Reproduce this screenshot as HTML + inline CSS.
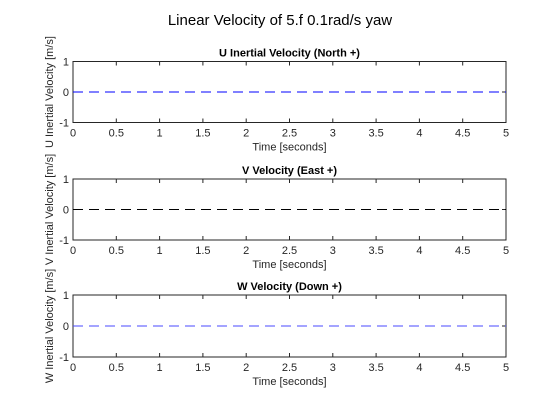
<!DOCTYPE html>
<html><head><meta charset="utf-8"><style>
body{margin:0;background:#fff;}
svg text{font-family:"Liberation Sans",Arial,sans-serif;}
</style></head><body>
<svg id="fig" width="560" height="414" xmlns="http://www.w3.org/2000/svg">
<rect width="560" height="414" fill="#fff"/>
<text x="280" y="25" font-size="15" text-anchor="middle" fill="#000">Linear Velocity of 5.f 0.1rad/s yaw</text>
</svg>
<script>
const xTicks=[0,0.5,1,1.5,2,2.5,3,3.5,4,4.5,5];
const xTickLabels=["0","0.5","1","1.5","2","2.5","3","3.5","4","4.5","5"];
const yTicks=[-1,0,1];
const tValues=[0,5];
const uValues=[0,0];
const vValues=[0,0];
const wValues=[0,0];
const titles=["U Inertial Velocity (North +)","V Velocity (East +)","W Velocity (Down +)"];
const yLabels=["U Inertial Velocity [m/s]","V Inertial Velocity [m/s]","W Inertial Velocity [m/s]"];
const series=[uValues,vValues,wValues];
const colors=["#0000ff","#000000","#4a4aff"];
const panels=[[61.5,122.5],[179,240],[295,357]];
const ns="http://www.w3.org/2000/svg";
const svg=document.getElementById('fig');
const X0=73,X1=506;
function mk(t,a,p){const e=document.createElementNS(ns,t);for(const k in a)e.setAttribute(k,a[k]);(p||svg).appendChild(e);return e;}
panels.forEach((pn,i)=>{
  const top=pn[0],bot=pn[1];
  const xs=v=>X0+(v-0)/(5-0)*(X1-X0);
  const ys=v=>bot-(v+1)/2*(bot-top);
  const g=mk('g',{});
  
  
  const box=mk('rect',{x:X0,y:top,width:X1-X0,height:bot-top,fill:'#fff',stroke:'#262626','stroke-width':1},g);
  
  
  xTicks.forEach((v,j)=>{
    const x=xs(v);
    mk('line',{x1:x,x2:x,y1:bot,y2:bot-4,stroke:'#262626'},g);
    mk('line',{x1:x,x2:x,y1:top,y2:top+4,stroke:'#262626'},g);
    const t=mk('text',{x:x,y:bot+14,'font-size':11,'text-anchor':'middle',fill:'#262626'},g);
    t.textContent=xTickLabels[j];
    
    
  });
  yTicks.forEach(v=>{
    const y=ys(v);
    mk('line',{x1:X0,x2:X0+4,y1:y,y2:y,stroke:'#262626'},g);
    mk('line',{x1:X1,x2:X1-4,y1:y,y2:y,stroke:'#262626'},g);
    const t=mk('text',{x:X0-4,y:y+4,'font-size':11,'text-anchor':'end',fill:'#262626'},g);
    t.textContent=String(v);
    
    
  });
  const ti=mk('text',{x:(X0+X1)/2,y:top-5,'font-size':11,'font-weight':'bold','text-anchor':'middle',fill:'#000'},g);
  ti.textContent=titles[i];
  
  
  const xl=mk('text',{x:(X0+X1)/2,y:bot+28,'font-size':11,'text-anchor':'middle',fill:'#262626'},g);
  xl.textContent='Time [seconds]';
  
  
  const cy=(top+bot)/2;
  const yl=mk('text',{x:53,y:cy,'font-size':11,'text-anchor':'middle',fill:'#262626',transform:'rotate(-90 53 '+cy+')'},g);
  yl.textContent=yLabels[i];
  
  
  const d=series[i].map((v,k)=>(k?'L':'M')+xs(tValues[k])+','+ys(v)).join(' ');
  const p=mk('path',{d:d,fill:'none',stroke:colors[i],'stroke-width':1,'stroke-dasharray':'10,6'},g);
  
  
});
</script>
</body></html>
